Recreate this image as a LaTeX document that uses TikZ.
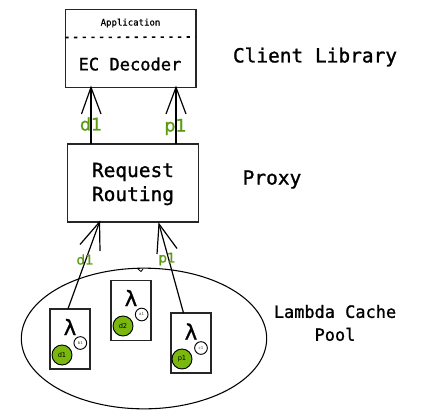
\documentclass[tikz,border=0pt]{standalone}
\usepackage{fontspec}
\usetikzlibrary{shapes.geometric}
\setmainfont{DejaVu Sans}
\setmonofont{DejaVu Sans Mono}
\newfontfamily\fbmono[FakeBold=1.2]{DejaVu Sans Mono}
\newfontfamily\fbmonob[FakeBold=0.5]{DejaVu Sans Mono}
\newfontfamily\fbsans[FakeBold=1.0]{DejaVu Sans}
\definecolor{lblgreen}{HTML}{5A9A10}
\definecolor{fillgreen}{HTML}{7AB80E}
\tikzset{
  box/.style={draw=black!85,line width=1pt,fill=white,inner sep=0pt,minimum width=#1},
  lam/.style={draw=black!85,line width=1.1pt,fill=white,inner sep=0pt,minimum width=30pt,minimum height=45pt},
  cap1/.style={font=\fbmono\fontsize{14.6}{19}\selectfont,align=center,inner sep=0pt},
  cap2/.style={font=\fbmono\fontsize{12.7}{17.2}\selectfont,align=center,inner sep=0pt},
  greenl/.style={text=lblgreen,font=\fbsans\fontsize{13}{15}\selectfont,inner sep=0pt},
  greens/.style={text=lblgreen,font=\fbsans\fontsize{10}{12}\selectfont,inner sep=0pt},
  gc/.style={circle,draw=black,line width=0.7pt,fill=fillgreen,minimum size=15pt,inner sep=0pt,font=\fontsize{5}{6}\selectfont},
  wc/.style={circle,draw=black,line width=0.7pt,fill=white,minimum size=9.5pt,inner sep=0pt,font=\fontsize{3}{4}\selectfont,text=black!70},
  lamtxt/.style={font=\fbmono\fontsize{16}{18}\selectfont,inner sep=0pt},
  con/.style={draw=black,line width=0.9pt},
}
\begin{document}
\begin{tikzpicture}[x=0.75pt,y=-0.75pt]
\useasboundingbox (0,0) rectangle (425,419);
% top box
\node[box=98pt,minimum height=58.5pt] (ec) at (130.5,48.2) {};
\coordinate (dl) at (65.3,37.5); \coordinate (dr) at (195.7,37);
\draw[black,line width=1.2pt,dash pattern=on 2.5pt off 4pt] (dl) -- (dr);
\node[font=\fbmonob\fontsize{6.75}{8}\selectfont,inner sep=0pt] (app) at (130.5,23) {Application};
\node[font=\fbmono\fontsize{12.8}{15}\selectfont,inner sep=0pt] (dec) at (130,64) {EC Decoder};
% proxy
\node[box=98pt,minimum height=58.5pt] (rr) at (133,183) {};
\node[align=center,inner sep=0pt,font=\fbmono\fontsize{14.6}{18}\selectfont] (rrt) at (133,184) {Request\\Routing};
% captions
\node[cap1] (cl) at (315,57) {Client Library};
\node[cap1] (px) at (272,179.5) {Proxy};
\node[cap2] (pool) at (335,323) {Lambda Cache\\Pool};
% ellipse
\node[draw=black,line width=0.8pt,ellipse,minimum width=184pt,minimum height=105.5pt,inner sep=0pt] (pl) at (144,338.5) {};
\coordinate (tk1) at (138,269); \coordinate (tk2) at (141,271.5); \coordinate (tk3) at (143,269);
\draw[con,line width=0.6pt] (tk1) -- (tk2) -- (tk3);
% lambda boxes
\node[lam] (b1) at (70,339) {};
\node[lam] (b2) at (131,310.3) {};
\node[lam] (b3) at (191,343) {};
\node[lamtxt] (l1) at (70,327) {λ};
\node[lamtxt] (l2) at (131,298) {λ};
\node[lamtxt] (l3) at (191,331.5) {λ};
\node[gc] (g1) at (62,355) {d1};
\node[gc] (g2) at (123,326) {d2};
\node[gc] (g3) at (182,359) {p1};
\node[wc] (w1) at (80.3,343) {b1};
\node[wc] (w2) at (141.7,314.5) {a1};
\node[wc] (w3) at (201,348) {c1};
% upper arrows
\coordinate (ua) at (91,87.3); \coordinate (ub) at (176,87.3);
\coordinate (ua0) at (91,144); \coordinate (ub0) at (176,144);
\draw[con] (ua0) -- (ua);
\draw[con] (81.5,114) -- (ua) -- (101,114);
\draw[con] (ub0) -- (ub);
\draw[con] (166,114) -- (ub) -- (186,114);
\node[greenl] (ld1) at (91,124) {d1};
\node[greenl] (lp1) at (175.5,127) {p1};
% lower arrows
\coordinate (la) at (99.5,222); \coordinate (lb) at (159,224);
\coordinate (la0) at (68,308.7); \coordinate (lb0) at (183.5,313);
\draw[con] (la0) -- (la);
\draw[con] (80,244.5) -- (la) -- (100,251);
\draw[con] (lb0) -- (lb);
\draw[con] (157,254) -- (lb) -- (177,248.5);
\node[greens] (sd1) at (85,259.5) {d1};
\node[greens] (sp1) at (167,259) {p1};
\end{tikzpicture}
\end{document}
